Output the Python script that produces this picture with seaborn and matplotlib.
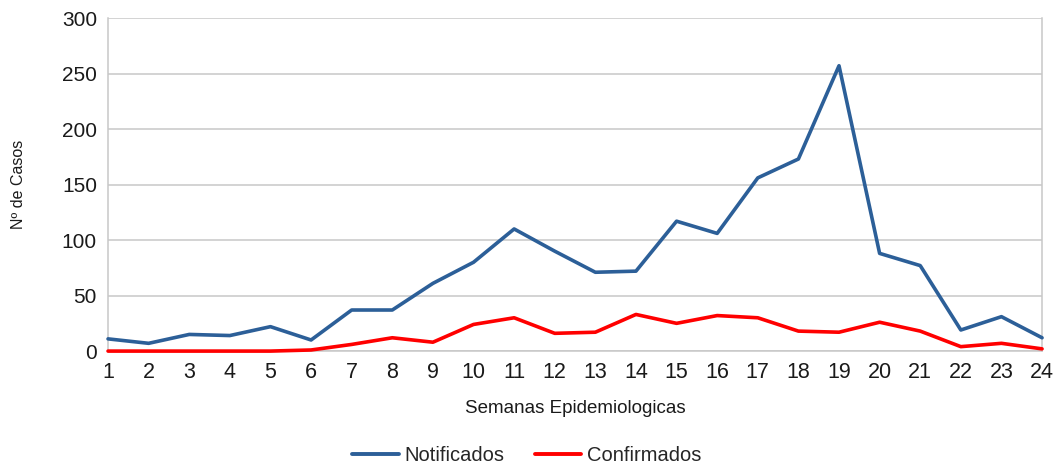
import pandas as pd
import seaborn as sns
import matplotlib.pyplot as plt

# data
semanas = list(range(1, 25))
notificados = [11, 7, 15, 14, 22, 10, 37, 37, 61, 80, 110, 90, 71, 72,
               117, 106, 156, 173, 257, 88, 77, 19, 31, 12]
confirmados = [0, 0, 0, 0, 0, 1, 6, 12, 8, 24, 30, 16, 17, 33,
               25, 32, 30, 18, 17, 26, 18, 4, 7, 2]

df = pd.DataFrame({'Semana': semanas * 2,
                   'Casos': notificados + confirmados,
                   'Serie': ['Notificados'] * 24 + ['Confirmados'] * 24})

sns.set_style("white")
plt.rcParams['font.family'] = ['Liberation Sans', 'DejaVu Sans']

palette = {'Notificados': '#2c5f98', 'Confirmados': '#ff0000'}

fig = plt.figure(figsize=(10.56, 4.70), dpi=100)
ax = fig.add_axes([0.1023, 0.253, 0.8845, 0.7087])
sns.lineplot(data=df, x='Semana', y='Casos', hue='Serie', palette=palette,
             linewidth=2.6, ax=ax, legend=False)
for ln in ax.lines:
    ln.set_clip_on(False)
    ln.set_zorder(3)

ax.set_xlim(1, 24)
ax.set_ylim(0, 300)
ax.set_xticks(semanas)
ax.set_yticks(range(0, 301, 50))
ax.grid(axis='y', color='#c8c8c8', linewidth=1.1)
ax.set_axisbelow(True)
for s in ['left', 'right', 'bottom']:
    ax.spines[s].set_color('#c8c8c8')
    ax.spines[s].set_linewidth(1.1)
ax.spines['top'].set_visible(False)
ax.tick_params(axis='x', length=6, color='#c8c8c8', width=1.1, labelsize=15.5,
               labelcolor='#1a1a1a', pad=2)
ax.tick_params(axis='y', length=6, color='#c8c8c8', width=1.1, labelsize=15,
               labelcolor='#1a1a1a', pad=2)

ax.set_xlabel('Semanas Epidemiologicas', fontsize=13.5, color='#1a1a1a', labelpad=12)
ax.set_ylabel('Nº de Casos', fontsize=11.5, color='#1a1a1a', labelpad=26)

handles = [plt.Line2D([], [], color=palette[k], linewidth=2.8) for k in palette]
fig.legend(handles, list(palette), loc='lower center', bbox_to_anchor=(0.499, -0.028),
           ncol=2, frameon=False, fontsize=14.5, handlelength=2.3, columnspacing=1.5,
           handletextpad=0.3)

plt.savefig('out.png', dpi=100)
